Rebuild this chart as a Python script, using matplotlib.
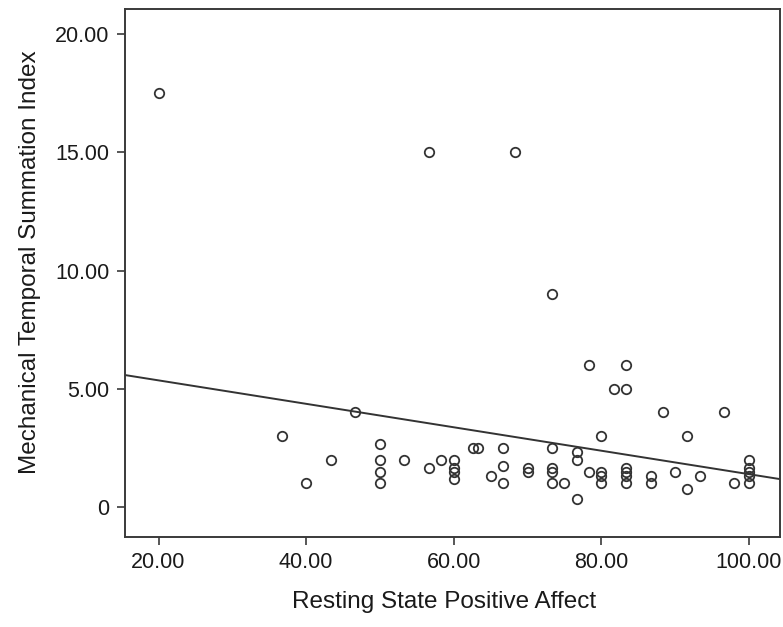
import numpy as np
import matplotlib
matplotlib.use('Agg')
import matplotlib.pyplot as plt
from matplotlib.ticker import FuncFormatter

# resting state positive affect (x) and mechanical temporal summation index (y)
affect = [20.00, 56.67, 68.33, 73.33,
          78.33, 83.33, 81.67, 83.33, 88.33, 96.67, 80.00, 91.67,
          36.67, 40.00, 43.33, 46.67,
          50.00, 50.00, 50.00, 50.00, 53.33, 56.67, 58.33,
          60.00, 60.00, 60.00, 60.00, 62.67, 63.33, 65.00,
          66.67, 66.67, 66.67, 70.00, 70.00,
          73.33, 73.33, 73.33, 73.33, 75.00, 76.67, 76.67, 76.67,
          78.33, 80.00, 80.00, 80.00, 83.33, 83.33, 83.33, 83.33,
          86.67, 86.67, 90.00, 91.67, 93.33, 98.00,
          100.00, 100.00, 100.00, 100.00, 100.00]
tsi = [17.50, 15.00, 15.00, 9.00,
       6.00, 6.00, 5.00, 5.00, 4.00, 4.00, 3.00, 3.00,
       3.00, 1.00, 2.00, 4.00,
       2.67, 2.00, 1.50, 1.00, 2.00, 1.67, 2.00,
       2.00, 1.67, 1.50, 1.17, 2.50, 2.50, 1.33,
       2.50, 1.75, 1.00, 1.67, 1.50,
       2.50, 1.67, 1.50, 1.00, 1.00, 2.33, 2.00, 0.33,
       1.50, 1.50, 1.33, 1.00, 1.67, 1.50, 1.33, 1.00,
       1.33, 1.00, 1.50, 0.75, 1.33, 1.00,
       2.00, 1.67, 1.50, 1.33, 1.00]

# fit line as drawn in the original (intercept, slope)
fit_intercept = 6.35
fit_slope = -0.0496

xticks = [20, 40, 60, 80, 100]
yticks = [0, 5, 10, 15, 20]

plt.rcParams['font.family'] = ['Liberation Sans', 'DejaVu Sans']
txt = '#1a1a1a'
edge = '#3a3a3a'

fig = plt.figure(figsize=(7.83, 6.27), dpi=100)
ax = fig.add_axes([0.1596, 0.1435, 0.8364, 0.8421])

ax.plot(affect, tsi, 'o', mfc='none', mec='#333333', mew=1.3, ms=6.8, zorder=3)

xlim = (15.45, 104.2)
xs = np.array(xlim)
ax.plot(xs, fit_intercept + fit_slope * xs, color='#333333', lw=1.4, zorder=2)

ax.set_xlim(xlim)
ax.set_ylim(-1.27, 21.07)
ax.set_xticks(xticks)
ax.set_yticks(yticks)
ax.xaxis.set_major_formatter(FuncFormatter(lambda v, p: '%.2f' % v))
ax.yaxis.set_major_formatter(FuncFormatter(lambda v, p: '0' if v == 0 else '%.2f' % v))

for s in ax.spines.values():
    s.set_color(edge)
    s.set_linewidth(1.4)
ax.tick_params(direction='out', length=6, width=1.2, color=edge,
               labelsize=15.5, labelcolor=txt, pad=5)

ax.set_xlabel('Resting State Positive Affect', fontsize=17.5, color=txt, labelpad=13)
ax.set_ylabel('Mechanical Temporal Summation Index', fontsize=17.5, color=txt, labelpad=10)
ax.xaxis.label.set_x(0.488)
ax.yaxis.label.set_y(0.52)

fig.savefig('out.png', dpi=100)
